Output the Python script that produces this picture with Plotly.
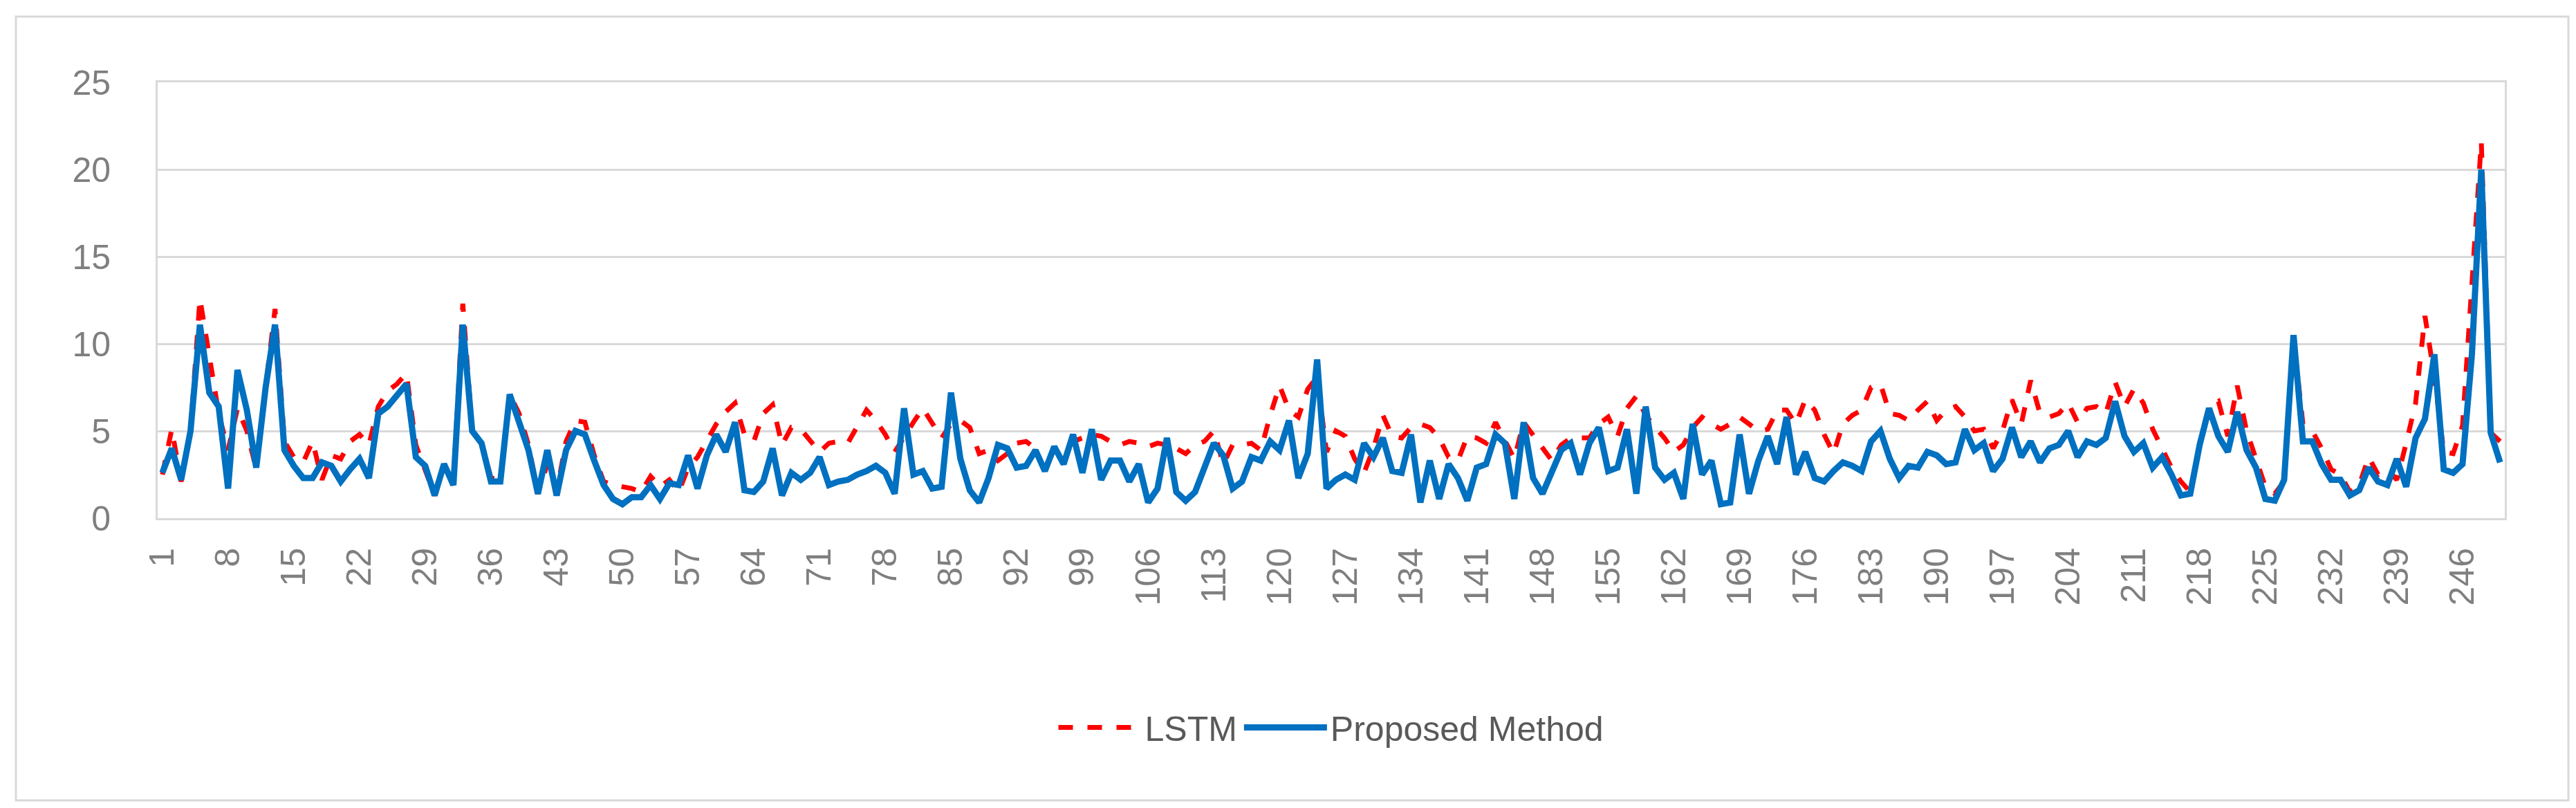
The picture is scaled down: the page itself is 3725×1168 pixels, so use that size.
import plotly.graph_objects as go

# sample index (1..250) and the two error series
samples = list(range(1, 251))

lstm = [
    2.5, 5.1, 2.1, 5.0, 12.6, 9.5, 6.0, 3.9, 6.3, 5.0,
    2.8, 7.5, 12.0, 4.4, 3.5, 3.2, 4.4, 2.2, 3.6, 3.4,
    4.4, 4.8, 4.2, 6.4, 7.3, 7.7, 8.3, 4.2, 2.8, 1.3,
    3.1, 1.9, 12.3, 5.0, 4.3, 2.3, 2.2, 7.1, 6.0, 4.2,
    1.4, 3.1, 1.5, 4.4, 5.6, 5.5, 3.6, 2.1, 1.9, 1.8,
    1.7, 1.5, 2.4, 1.8, 2.2, 1.5, 2.9, 3.5, 4.4, 5.4,
    6.1, 6.6, 4.8, 4.4, 6.0, 6.5, 4.2, 5.2, 5.1, 4.4,
    3.8, 4.3, 4.4, 4.3, 5.2, 6.2, 5.6, 4.8, 3.8, 4.7,
    5.5, 6.3, 5.5, 4.6, 5.4, 5.6, 5.2, 3.7, 3.9, 3.3,
    3.7, 4.3, 4.4, 4.0, 2.7, 4.0, 3.9, 4.4, 4.6, 4.8,
    4.7, 4.4, 4.2, 4.4, 4.3, 4.1, 4.3, 4.2, 4.0, 3.7,
    4.2, 4.4, 5.0, 3.1, 4.2, 4.2, 4.3, 3.9, 5.9, 7.6,
    6.2, 5.8, 7.4, 8.1, 3.8, 5.0, 4.7, 3.4, 2.6, 4.0,
    5.9, 4.7, 4.6, 5.2, 5.4, 5.2, 4.6, 3.5, 3.3, 4.7,
    4.6, 4.3, 5.5, 4.4, 3.4, 5.5, 4.8, 4.0, 3.3, 4.2,
    4.6, 4.6, 4.6, 5.4, 5.8, 4.7, 6.3, 7.0, 5.9, 5.2,
    4.6, 3.8, 4.2, 5.2, 5.8, 5.4, 5.1, 5.4, 5.8, 5.4,
    5.0, 5.1, 6.2, 6.2, 5.4, 6.8, 6.2, 4.8, 3.7, 5.4,
    5.9, 6.2, 7.5, 7.7, 6.0, 5.9, 5.6, 6.2, 6.7, 5.6,
    6.2, 6.4, 5.8, 5.0, 5.1, 4.0, 5.0, 6.8, 5.4, 7.9,
    6.0, 5.8, 6.0, 6.6, 5.5, 6.3, 6.4, 6.0, 7.8, 6.4,
    7.4, 6.6, 5.1, 4.0, 2.9, 2.1, 1.5, 4.3, 6.4, 6.7,
    4.7, 7.6, 5.0, 3.4, 1.8, 1.4, 2.1, 10.3, 5.4, 5.0,
    4.0, 2.8, 2.5, 1.5, 1.9, 3.5, 2.5, 2.8, 2.2, 4.3,
    6.6, 11.6, 8.1, 3.8, 3.7, 5.3, 13.4, 21.6, 4.9, 4.4,
]

proposed = [
    2.6, 4.0, 2.2, 5.0, 11.1, 7.2, 6.4, 1.7, 8.5, 6.2,
    2.9, 7.5, 11.1, 3.9, 3.0, 2.3, 2.3, 3.2, 3.0, 2.1,
    2.8, 3.4, 2.3, 6.0, 6.4, 7.0, 7.7, 3.5, 3.0, 1.3,
    3.1, 1.9, 11.1, 5.0, 4.3, 2.1, 2.1, 7.1, 5.6, 3.9,
    1.4, 3.9, 1.3, 3.9, 5.0, 4.8, 3.3, 1.9, 1.1, 0.8,
    1.2, 1.2, 1.9, 1.1, 2.0, 1.9, 3.6, 1.7, 3.6, 4.8,
    3.8, 5.5, 1.6, 1.5, 2.1, 4.0, 1.3, 2.6, 2.2, 2.6,
    3.5, 1.9, 2.1, 2.2, 2.5, 2.7, 3.0, 2.6, 1.4, 6.3,
    2.5, 2.7, 1.7, 1.8, 7.2, 3.4, 1.6, 0.9, 2.3, 4.2,
    4.0, 2.9, 3.0, 3.9, 2.7, 4.1, 3.1, 4.8, 2.6, 5.1,
    2.2, 3.3, 3.3, 2.1, 3.1, 0.9, 1.7, 4.6, 1.5, 1.0,
    1.5, 2.9, 4.3, 3.6, 1.7, 2.1, 3.5, 3.3, 4.4, 3.9,
    5.6, 2.3, 3.7, 9.1, 1.7, 2.2, 2.5, 2.2, 4.3, 3.5,
    4.6, 2.7, 2.6, 4.8, 0.9, 3.3, 1.1, 3.1, 2.3, 1.0,
    2.9, 3.1, 4.8, 4.3, 1.1, 5.5, 2.3, 1.4, 2.7, 3.9,
    4.3, 2.5, 4.3, 5.2, 2.7, 2.9, 5.1, 1.4, 6.4, 2.9,
    2.2, 2.6, 1.1, 5.4, 2.5, 3.3, 0.8, 0.9, 4.8, 1.4,
    3.3, 4.7, 3.1, 5.8, 2.5, 3.8, 2.3, 2.1, 2.7, 3.2,
    3.0, 2.7, 4.4, 5.0, 3.4, 2.3, 3.0, 2.9, 3.8, 3.6,
    3.1, 3.2, 5.1, 3.9, 4.3, 2.7, 3.4, 5.2, 3.5, 4.4,
    3.2, 4.0, 4.2, 5.0, 3.5, 4.4, 4.2, 4.6, 6.7, 4.7,
    3.8, 4.3, 2.9, 3.5, 2.5, 1.3, 1.4, 4.2, 6.3, 4.7,
    3.8, 6.1, 3.9, 2.9, 1.1, 1.0, 2.2, 10.5, 4.4, 4.4,
    3.1, 2.2, 2.2, 1.3, 1.6, 2.9, 2.1, 1.9, 3.4, 1.8,
    4.6, 5.7, 9.4, 2.8, 2.6, 3.1, 9.4, 20.0, 4.9, 3.2,
]

x_ticks = list(range(1, 251, 7))
y_ticks = [0, 5, 10, 15, 20, 25]

grid_col = "#d9d9d9"
text_col = "#7f7f7f"

fig = go.Figure()
fig.add_trace(go.Scatter(
    x=samples, y=lstm, mode="lines", name="LSTM",
    line=dict(color="#ff0000", width=7, dash="dash"),
))
fig.add_trace(go.Scatter(
    x=samples, y=proposed, mode="lines", name="Proposed Method",
    line=dict(color="#0070c0", width=9),
))

fig.update_layout(
    width=3725, height=1168,
    margin=dict(l=220, r=111, t=111, b=427),
    plot_bgcolor="white",
    paper_bgcolor="white",
    font=dict(family="Liberation Sans", size=50, color=text_col),
    showlegend=True,
    legend=dict(
        orientation="h", x=0.5, xanchor="center", y=-0.48, yanchor="middle",
        itemwidth=120, font=dict(size=50, color="#595959"),
    ),
)

fig.update_xaxes(
    range=[0.5, 250.5], tickmode="array", tickvals=x_ticks,
    ticktext=[str(v) for v in x_ticks], tickangle=-90,
    showgrid=False, zeroline=False,
    showline=True, mirror=True, linecolor=grid_col, linewidth=3,
    ticks="", ticklabelstandoff=20,
)
fig.update_yaxes(
    range=[0, 25], tickmode="array", tickvals=y_ticks,
    showgrid=True, gridcolor=grid_col, gridwidth=3, zeroline=False,
    showline=True, mirror=True, linecolor=grid_col, linewidth=3,
    ticks="", ticklabelstandoff=55,
)

# thin border around the whole chart area
fig.add_shape(
    type="rect", xref="paper", yref="paper",
    x0=(15 - 220) / 3394, x1=(3706 - 220) / 3394,
    y0=(741 - 1149) / 630, y1=(741 - 16) / 630,
    line=dict(color=grid_col, width=3),
)

fig.write_html("out.html")
